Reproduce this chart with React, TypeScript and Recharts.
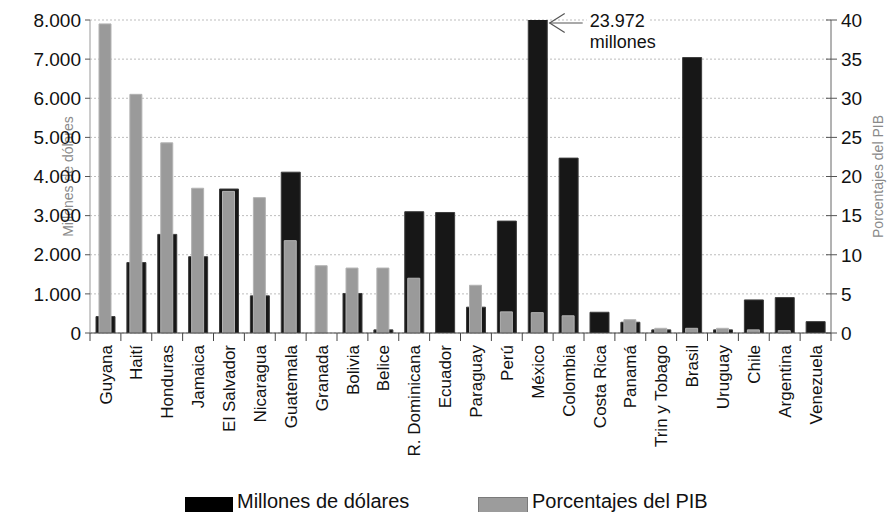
import React from 'react';
import { BarChart, Bar, XAxis, YAxis, CartesianGrid, Legend, ReferenceDot } from 'recharts';

const countries = [
  'Guyana', 'Haití', 'Honduras', 'Jamaica', 'El Salvador', 'Nicaragua', 'Guatemala', 'Granada',
  'Bolivia', 'Belice', 'R. Dominicana', 'Ecuador', 'Paraguay', 'Perú', 'México', 'Colombia',
  'Costa Rica', 'Panamá', 'Trin y Tobago', 'Brasil', 'Uruguay', 'Chile', 'Argentina', 'Venezuela'
];
// millones de dólares
const millones = [
  420, 1800, 2520, 1950, 3680, 950, 4110, 0,
  1010, 80, 3100, 3080, 660, 2860, 23972, 4470,
  530, 275, 80, 7040, 80, 845, 905, 290
];
// porcentajes del PIB
const porcentajes = [
  39.5, 30.5, 24.3, 18.5, 18.1, 17.3, 11.8, 8.6,
  8.3, 8.3, 7.0, 0, 6.1, 2.7, 2.6, 2.2,
  0, 1.7, 0.6, 0.6, 0.6, 0.4, 0.3, 0
];
const dolaresTicks = [0, 1000, 2000, 3000, 4000, 5000, 6000, 7000, 8000];
const pibTicks = [0, 5, 10, 15, 20, 25, 30, 35, 40];

const FONT = '"Liberation Sans", Arial, sans-serif';
const W = 887;
const H = 512;
const LEFT_W = 90;
const RIGHT_W = 56;
const HALF_STEP = (W - LEFT_W - RIGHT_W) / countries.length / 2;

const data = countries.map((name, i) => ({
  name,
  millones: millones[i],
  pib: porcentajes[i],
}));

const fmtMiles = (v: number) => v.toLocaleString('de-DE');

function CountryTick(props: any) {
  const { x, y, payload, index } = props;
  const axisY = y - 12;
  return (
    <g>
      <line x1={x - HALF_STEP} y1={axisY} x2={x - HALF_STEP} y2={axisY + 8} stroke="#444" />
      {index === countries.length - 1 && (
        <line x1={x + HALF_STEP} y1={axisY} x2={x + HALF_STEP} y2={axisY + 8} stroke="#444" />
      )}
      <text
        x={x}
        y={y}
        transform={`rotate(-90, ${x}, ${y})`}
        textAnchor="end"
        dy="0.36em"
        fontSize={17}
        fontFamily={FONT}
        fill="#111"
      >
        {payload.value}
      </text>
    </g>
  );
}

function PibTick(props: any) {
  const { x, y, payload } = props;
  return (
    <g>
      <line x1={x - 15} y1={y} x2={x - 4} y2={y} stroke="#555" />
      <text x={x} y={y} dy="0.36em" fontSize={19} fontFamily={FONT} fill="#111" textAnchor="start">
        {payload.value}
      </text>
    </g>
  );
}

function LeftTitle(props: any) {
  const { viewBox } = props;
  const cx = viewBox.x + 68;
  const cy = viewBox.y + viewBox.height / 2;
  return (
    <text x={cx} y={cy} transform={`rotate(-90, ${cx}, ${cy})`} textAnchor="middle" dy="0.35em"
      fontSize={14} fontFamily={FONT} fill="#8a8a8a">
      Millones de dólares
    </text>
  );
}

function RightTitle(props: any) {
  const { viewBox } = props;
  const cx = viewBox.x + 47;
  const cy = viewBox.y + viewBox.height / 2;
  return (
    <text x={cx} y={cy} transform={`rotate(-90, ${cx}, ${cy})`} textAnchor="middle" dy="0.35em"
      fontSize={14} fontFamily={FONT} fill="#8a8a8a">
      Porcentajes del PIB
    </text>
  );
}

function MexicoNote(props: any) {
  const { cx, cy } = props;
  const y = cy + 3;
  return (
    <g>
      <rect x={cx + 49} y={cy - 9} width={63} height={18} fill="#fff" />
      <line x1={cx + 12} y1={y} x2={cx + 45} y2={y} stroke="#555" strokeWidth={1.2} />
      <polyline
        points={`${cx + 27},${y - 9.5} ${cx + 12},${y} ${cx + 27},${y + 9.5}`}
        fill="none"
        stroke="#555"
        strokeWidth={1.2}
      />
      <text x={cx + 52} y={cy + 7} fontSize={18} fontFamily={FONT} fill="#111">23.972</text>
      <text x={cx + 52} y={cy + 28} fontSize={18} fontFamily={FONT} fill="#111">millones</text>
    </g>
  );
}

function LegendBox() {
  const txt: React.CSSProperties = {
    position: 'absolute',
    top: 1,
    fontSize: 20,
    lineHeight: '20px',
    fontFamily: FONT,
    color: '#111',
    whiteSpace: 'nowrap',
  };
  return (
    <div style={{ position: 'relative', width: W, height: 22 }}>
      <div style={{ position: 'absolute', left: 185, top: 7, width: 48, height: 15, background: '#000' }} />
      <span style={{ ...txt, left: 237 }}>Millones de dólares</span>
      <div style={{ position: 'absolute', left: 478, top: 7, width: 48, height: 14, background: '#9c9c9c', border: '1px solid #7a7a7a' }} />
      <span style={{ ...txt, left: 532 }}>Porcentajes del PIB</span>
    </div>
  );
}

export default function App() {
  return (
    <div style={{ position: 'absolute', left: 0, top: 0, width: W, height: H, background: '#fff' }}>
      <BarChart width={W} height={H} data={data} margin={{ top: 20, right: 0, bottom: 0, left: 0 }}>
        <CartesianGrid
          xAxisId="a"
          yAxisId="left"
          vertical={false}
          stroke="#bdbdbd"
          strokeDasharray="2 2"
        />
        <XAxis
          xAxisId="a"
          dataKey="name"
          interval={0}
          height={157}
          tickSize={8}
          tickMargin={4}
          tickLine={false}
          tick={<CountryTick />}
          axisLine={{ stroke: '#444' }}
        />
        <XAxis xAxisId="b" dataKey="name" hide />
        <YAxis
          yAxisId="left"
          orientation="left"
          width={LEFT_W}
          domain={[0, 8000]}
          ticks={dolaresTicks}
          allowDataOverflow
          tickFormatter={fmtMiles}
          tickSize={5}
          tickMargin={4}
          tickLine={{ stroke: '#555' }}
          axisLine={{ stroke: '#999' }}
          tick={{ fontSize: 19, fontFamily: FONT, fill: '#111' }}
          label={<LeftTitle />}
        />
        <YAxis
          yAxisId="right"
          orientation="right"
          width={RIGHT_W}
          domain={[0, 40]}
          ticks={pibTicks}
          tickSize={6}
          tickMargin={4}
          tickLine={false}
          axisLine={{ stroke: '#666' }}
          tick={<PibTick />}
          label={<RightTitle />}
        />
        <Legend verticalAlign="bottom" content={() => <LegendBox />} />
        <Bar
          xAxisId="a"
          yAxisId="left"
          dataKey="millones"
          name="Millones de dólares"
          barSize={19}
          fill="#171717"
          stroke="#3c3c3c"
          isAnimationActive={false}
        />
        <Bar
          xAxisId="b"
          yAxisId="right"
          dataKey="pib"
          name="Porcentajes del PIB"
          barSize={12}
          fill="#9a9a9a"
          stroke="#b3b3b3"
          isAnimationActive={false}
        />
        <ReferenceDot
          xAxisId="a"
          yAxisId="left"
          x="México"
          y={8000}
          ifOverflow="visible"
          shape={<MexicoNote />}
        />
      </BarChart>
    </div>
  );
}
